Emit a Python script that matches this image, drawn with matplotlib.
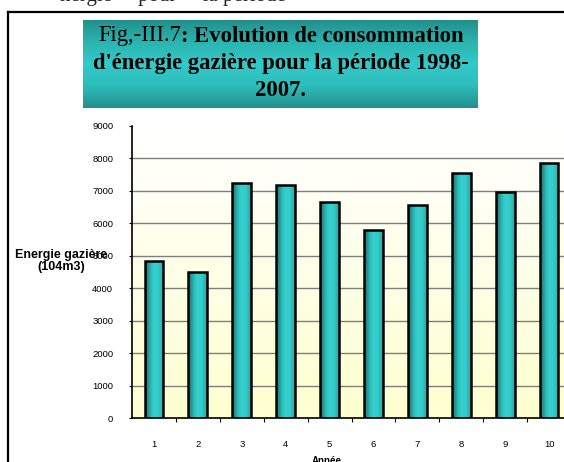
import numpy as np
import matplotlib
matplotlib.use("Agg")
import matplotlib.pyplot as plt
from matplotlib.colors import LinearSegmentedColormap
from matplotlib.patches import Rectangle
from matplotlib.lines import Line2D

# ---- data ----
years = ["1", "2", "3", "4", "5", "6", "7", "8", "9", "10"]
consumption = [4850, 4500, 7250, 7180, 6670, 5780, 6560, 7550, 6980, 7860]
y_ticks = [0, 1000, 2000, 3000, 4000, 5000, 6000, 7000, 8000, 9000]
title_normal = "Fig,-III.7"
title_bold_1 = ": Evolution de consommation"
title_line2 = "d'énergie gazière pour la période 1998-"
title_line3 = "2007."
ylabel = "Energie gazière\n(104m3)"
xlabel = "Année"

W, H = 564, 462
fig = plt.figure(figsize=(W / 100, H / 100), dpi=100)
fig.patch.set_facecolor("white")

def fx(px):
    return px / W

def fy(py):
    return 1 - py / H

# outer frame lines (document box)
fig.add_artist(Line2D([fx(8), fx(8)], [fy(12), fy(470)], color="black", lw=1.6))
fig.add_artist(Line2D([fx(8), fx(570)], [fy(12), fy(12)], color="black", lw=1.6))

# cut-off document text at the very top
fig.text(fx(60), fy(1), "nergie     pour     la période", fontsize=15,
         family="Liberation Serif", va="baseline", ha="left", color="#222222")

# ---- title box with vertical teal gradient ----
tax = fig.add_axes([fx(83), fy(108), fx(478) - fx(83), fy(20) - fy(108)])
tax.set_axis_off()
tcmap = LinearSegmentedColormap.from_list(
    "tb", ["#22908C", "#2BB4B0", "#33CACA", "#2DBDBA", "#22908C"])
tax.imshow(np.linspace(0, 1, 200).reshape(-1, 1), aspect="auto", cmap=tcmap,
           extent=[0, 1, 0, 1], origin="upper")
tax.set_xlim(0, 1)
tax.set_ylim(0, 1)

serif = "Liberation Serif"
fs_t = 16.3
renderer = fig.canvas.get_renderer()
t1 = fig.text(0, fy(36), title_normal, fontsize=fs_t, family=serif,
              ha="left", va="center", color="black")
t2 = fig.text(0, fy(36), title_bold_1, fontsize=fs_t, family=serif,
              weight="bold", ha="left", va="center", color="black")
w1 = t1.get_window_extent(renderer).width
w2 = t2.get_window_extent(renderer).width
start = 281 - (w1 + w2) / 2
t1.set_x(fx(start))
t2.set_x(fx(start + w1))
fig.text(fx(281), fy(63), title_line2, fontsize=fs_t, family=serif,
         weight="bold", ha="center", va="center", color="black")
fig.text(fx(281), fy(90), title_line3, fontsize=fs_t, family=serif,
         weight="bold", ha="center", va="center", color="black")

# ---- main axes ----
left, right, top, bottom = 132, 571, 126, 418
ax = fig.add_axes([fx(left), fy(bottom), fx(right) - fx(left), fy(top) - fy(bottom)])

# background gradient
bg = LinearSegmentedColormap.from_list("bg", ["#FFFFFF", "#FFFFD0"])
ax.imshow(np.linspace(0, 1, 256).reshape(-1, 1), aspect="auto", cmap=bg,
          extent=[0.5, 10.5, 0, 9000], origin="upper", zorder=0)

for v in y_ticks[1:-1]:
    ax.axhline(v, color="#7F7F7F", lw=1.0, zorder=1)

x = np.arange(1, len(years) + 1)
bars = ax.bar(x, consumption, width=0.43, facecolor="none",
              edgecolor="black", linewidth=1.8, zorder=3)

barcmap = LinearSegmentedColormap.from_list(
    "bar", ["#1A6E6C", "#238F8C", "#2DB3B0", "#33CCCC", "#35D0CE",
            "#33CCCC", "#2EBCB9", "#27A29F"])
grad = np.linspace(0, 1, 64).reshape(1, -1)
for b in bars:
    bx, bw, bh = b.get_x(), b.get_width(), b.get_height()
    im = ax.imshow(grad, aspect="auto", cmap=barcmap,
                   extent=[bx, bx + bw, 0, bh], zorder=2)
    clip = Rectangle((bx, 0), bw, bh, transform=ax.transData)
    im.set_clip_path(clip)

ax.set_xlim(0.5, 10.5)
ax.set_ylim(0, 9000)

for s in ["top", "right"]:
    ax.spines[s].set_visible(False)
for s in ["left", "bottom"]:
    ax.spines[s].set_color("black")
    ax.spines[s].set_linewidth(1.2)
    ax.spines[s].set_zorder(4)

sans = "Liberation Sans"
ax.set_yticks(y_ticks)
ax.set_yticklabels([str(v) for v in y_ticks], fontsize=6.8, family=sans)
ax.tick_params(axis="y", direction="out", length=2.5, width=0.8, pad=11)

ax.set_xticks(x)
ax.set_xticklabels(years, fontsize=6.8, family=sans)
ax.tick_params(axis="x", which="major", length=0, pad=16)
ax.set_xticks(np.arange(1.5, 10.5, 1), minor=True)
ax.tick_params(axis="x", which="minor", direction="out", length=3, width=0.8)

fig.text(fx(61), fy(261), ylabel, fontsize=9, family=sans, weight="bold",
         ha="center", va="center", linespacing=1.05)
fig.text(fx(327), fy(461), xlabel, fontsize=7, family=sans, weight="bold",
         ha="center", va="center")

fig.savefig("out.png", dpi=100)
